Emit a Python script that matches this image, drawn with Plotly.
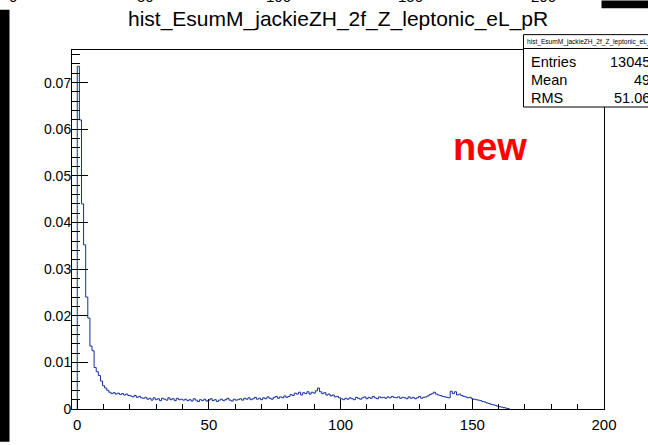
import numpy as np
import plotly.graph_objects as go

# ---- data -------------------------------------------------------------
hist_title = "hist_EsumM_jackieZH_2f_Z_leptonic_eL_pR"
x_min, x_max = -2.0, 200.0
bin_width = 0.8
first_edge = 0.0
# normalised bin contents starting at bin [0, 0.8)
values = [
    0.0735, 0.0620, 0.0440, 0.0352, 0.0240, 0.0195, 0.0135, 0.0125, 0.0089, 0.0080,
    0.0072, 0.0060, 0.0050, 0.0045, 0.0040, 0.0036, 0.0033, 0.0035,
    0.0032, 0.0034, 0.0031, 0.0033, 0.0030, 0.0032, 0.0029,
    0.0028, 0.0026, 0.0029, 0.0025, 0.0027, 0.0024, 0.0023,
    0.0025, 0.0021, 0.0023, 0.0019, 0.0024, 0.0020, 0.0022, 0.0018, 0.0023, 0.0021,
    0.0019, 0.0024, 0.0020, 0.0022, 0.0018, 0.0023, 0.0020, 0.0021, 0.0019,
    0.0021, 0.0018, 0.0020, 0.0017, 0.0022, 0.0019, 0.0016, 0.0020, 0.0018, 0.0021,
    0.0017, 0.0019, 0.0022, 0.0018, 0.0020, 0.0016, 0.0019, 0.0021, 0.0018, 0.0020,
    0.0023, 0.0019, 0.0017, 0.0021, 0.0019,
    0.0020, 0.0022, 0.0019, 0.0023, 0.0021, 0.0024, 0.0020, 0.0022, 0.0025, 0.0021,
    0.0023, 0.0020, 0.0024, 0.0022, 0.0026, 0.0023, 0.0021, 0.0025, 0.0027, 0.0023,
    0.0026, 0.0024, 0.0028, 0.0025, 0.0027,
    0.0031, 0.0029, 0.0034, 0.0032, 0.0036, 0.0030, 0.0035, 0.0033, 0.0037, 0.0032,
    0.0036, 0.0034, 0.0039, 0.0045, 0.0037, 0.0033, 0.0035, 0.0030, 0.0032, 0.0028,
    0.0030, 0.0026, 0.0027, 0.0024, 0.0022,
    0.0020, 0.0023, 0.0021, 0.0024, 0.0022, 0.0020, 0.0025, 0.0023, 0.0021, 0.0024,
    0.0026, 0.0022, 0.0025, 0.0023, 0.0027, 0.0024, 0.0022, 0.0026, 0.0024, 0.0025,
    0.0023, 0.0026, 0.0024, 0.0027, 0.0025,
    0.0024, 0.0026, 0.0023, 0.0025, 0.0024, 0.0022, 0.0026, 0.0023, 0.0025, 0.0022,
    0.0024, 0.0027, 0.0023, 0.0025, 0.0026, 0.0028, 0.0031, 0.0033, 0.0036, 0.0032,
    0.0030, 0.0029, 0.0027, 0.0026, 0.0025,
    0.0024, 0.0038, 0.0033, 0.0037, 0.0030, 0.0032, 0.0029, 0.0027, 0.0026, 0.0024,
    0.0025, 0.0022, 0.0021, 0.0020, 0.0019,
    0.0018, 0.0016, 0.0015, 0.0013, 0.0012, 0.0010, 0.0009, 0.0008, 0.0006, 0.0005,
    0.0004, 0.0003, 0.0002, 0.0001,
]
stats_labels = ["Entries", "Mean", "RMS"]
stats_values = ["13045", "49", "51.06"]
y_ticks = [0, 0.01, 0.02, 0.03, 0.04, 0.05, 0.06, 0.07]
x_ticks = [0, 50, 100, 150, 200]
top_cut_labels = ["0", "50", "100", "150", "200"]

# ---- geometry helpers -------------------------------------------------
W, H = 648, 445
ML, MR, MT, MB = 72, 44, 50, 33
PW, PH = W - ML - MR, H - MT - MB


def px(p):
    return (p - ML) / PW


def py(p):
    return (H - MB - p) / PH


edges = first_edge + bin_width * np.arange(len(values) + 1)
xs = np.concatenate([[edges[0]], edges, [edges[-1]]])
ys = np.concatenate([[0.0], values, [values[-1]], [0.0]])

FONT = "Liberation Sans, Arial, Helvetica, sans-serif"
line_col = "#152d9e"

fig = go.Figure()
fig.add_trace(go.Scatter(x=xs, y=ys, mode="lines", line=dict(shape="hv", color=line_col, width=1),
                         hoverinfo="skip", showlegend=False))

fig.update_layout(
    width=W, height=H,
    margin=dict(l=ML, r=MR, t=MT, b=MB, pad=0),
    paper_bgcolor="white", plot_bgcolor="white",
    font=dict(family=FONT, color="black"),
    showlegend=False,
)
fig.update_xaxes(
    range=[x_min, x_max], tickvals=x_ticks, ticks="inside", ticklen=10, tickcolor="black",
    tickwidth=1, showline=True, linecolor="black", linewidth=1, mirror=True,
    showgrid=False, zeroline=False, tickfont=dict(size=15, family=FONT),
    ticklabelstandoff=2,
    minor=dict(dtick=10, tick0=0, ticks="inside", ticklen=5, tickcolor="black", showgrid=False),
)
fig.update_yaxes(
    range=[0, 0.077], tickvals=y_ticks, ticks="inside", ticklen=16, tickcolor="black",
    tickwidth=1, showline=True, linecolor="black", linewidth=1, mirror=True,
    showgrid=False, zeroline=False, tickfont=dict(size=14, family=FONT),
    ticklabelstandoff=-3,
    minor=dict(dtick=0.002, tick0=0, ticks="inside", ticklen=8, tickcolor="black", showgrid=False),
)

shapes = []
# stats box
shapes.append(dict(type="rect", xref="paper", yref="paper", x0=px(523.5), x1=px(660),
                   y0=py(107.5), y1=py(34.5), line=dict(color="black", width=1),
                   fillcolor="white", layer="above"))
shapes.append(dict(type="line", xref="paper", yref="paper", x0=px(523.5), x1=px(660),
                   y0=py(48.5), y1=py(48.5), line=dict(color="black", width=1), layer="above"))
# screenshot artefacts (black borders)
shapes.append(dict(type="rect", xref="paper", yref="paper", x0=px(0), x1=px(9.5),
                   y0=py(445), y1=py(9.5), line=dict(width=0), fillcolor="black", layer="above"))
shapes.append(dict(type="rect", xref="paper", yref="paper", x0=px(601.5), x1=px(648),
                   y0=py(8), y1=py(0), line=dict(width=0), fillcolor="black", layer="above"))
fig.update_layout(shapes=shapes)

ann = []
ann.append(dict(text=hist_title, xref="paper", yref="paper", x=px(338), y=py(19),
                xanchor="center", yanchor="middle", showarrow=False,
                font=dict(size=21, family=FONT, color="black")))
ann.append(dict(text=hist_title, xref="paper", yref="paper", x=px(525), y=py(42),
                xanchor="left", yanchor="middle", showarrow=False,
                font=dict(size=6.6, family=FONT, color="black")))
for i, (lab, val) in enumerate(zip(stats_labels, stats_values)):
    yc = 62 + 18 * i
    ann.append(dict(text=lab, xref="paper", yref="paper", x=px(529), y=py(yc),
                    xanchor="left", yanchor="middle", showarrow=False,
                    font=dict(size=14.5, family=FONT, color="black")))
    ann.append(dict(text=val, xref="paper", yref="paper", x=px(652), y=py(yc),
                    xanchor="right", yanchor="middle", showarrow=False,
                    font=dict(size=14.5, family=FONT, color="black")))
ann.append(dict(text="<b>new</b>", xref="paper", yref="paper", x=px(490), y=py(148),
                xanchor="center", yanchor="middle", showarrow=False,
                font=dict(size=38, family=FONT, color="#ff0000")))
# cut-off labels of a neighbouring pad at the very top
top_pos = [13, 145.5, 278, 410.5, 543]
for lab, xp in zip(top_cut_labels, top_pos):
    ann.append(dict(text=lab, xref="paper", yref="paper", x=px(xp), y=py(7),
                    xanchor="center", yanchor="bottom", showarrow=False,
                    font=dict(size=15, family=FONT, color="black")))
fig.update_layout(annotations=ann)

fig.write_html("out.html")
